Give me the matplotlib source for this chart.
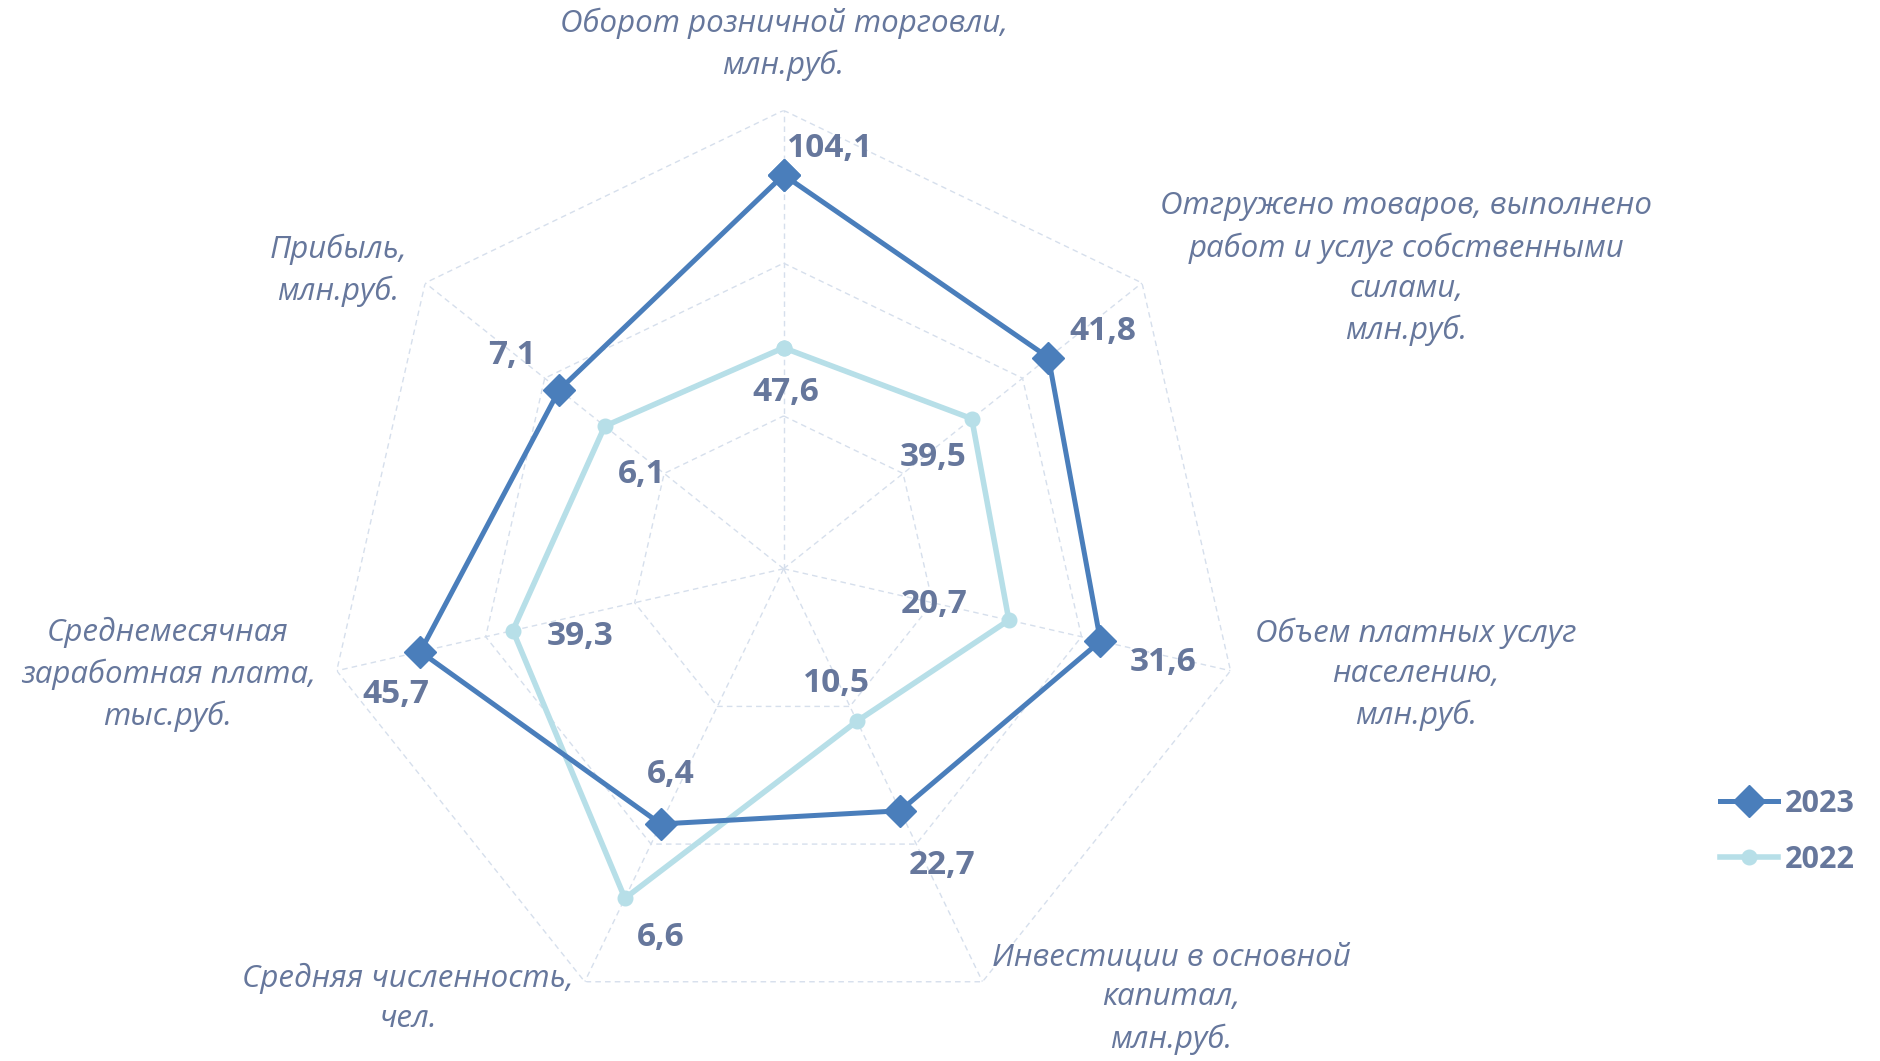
import numpy as np
import matplotlib.pyplot as plt

categories = [
    'Оборот розничной торговли,\nмлн.руб.',
    'Отгружено товаров, выполнено\nработ и услуг собственными\nсилами,\nмлн.руб.',
    'Объем платных услуг\nнаселению,\nмлн.руб.',
    'Инвестиции в основной\nкапитал,\nмлн.руб.',
    'Средняя численность,\nчел.',
    'Среднемесячная\nзаработная плата,\nтыс.руб.',
    'Прибыль,\nмлн.руб.',
]
# radial position of each point (share of the outer ring)
pos_2023 = [0.859, 0.739, 0.709, 0.586, 0.618, 0.813, 0.626]
pos_2022 = [0.482, 0.525, 0.504, 0.369, 0.798, 0.606, 0.499]
# values printed next to the points
labels_2023 = ['104,1', '41,8', '31,6', '22,7', '6,4', '45,7', '7,1']
labels_2022 = ['47,6', '39,5', '20,7', '10,5', '6,6', '39,3', '6,1']

plt.rcParams['font.family'] = ['Open Sans', 'DejaVu Sans']
text_col = '#66779c'
col_2023 = '#4a7ebb'
col_2022 = '#b7dfe8'
grid_col = '#d6dfec'

n = len(categories)
angles = np.arange(n) * 2 * np.pi / n
closed = np.append(angles, angles[0])

fig = plt.figure(figsize=(18.81, 10.61), dpi=100)
ax = fig.add_axes([0.1729, 0.0319, 0.4874, 0.8641], projection='polar')
ax.set_theta_zero_location('N')
ax.set_theta_direction(-1)
ax.set_ylim(0, 1)
ax.grid(False)
ax.spines['polar'].set_visible(False)
ax.set_xticks([])
ax.set_yticks([])
ax.patch.set_alpha(0)

for r in [1/3, 2/3, 1]:
    ax.plot(closed, [r] * (n + 1), color=grid_col, lw=1, ls=(0, (4, 3)), zorder=1)
for a in angles:
    ax.plot([a, a], [0, 1], color=grid_col, lw=1, ls=(0, (4, 3)), zorder=1)

ax.plot(closed, pos_2022 + pos_2022[:1], color=col_2022, lw=4, marker='o',
        markersize=10.5, zorder=3, label='2022')
ax.plot(closed, pos_2023 + pos_2023[:1], color=col_2023, lw=3.6, marker='D',
        markersize=16, zorder=4, label='2023')

off_2023 = [(39, -22), (45, -22), (52, 18), (35, 46), (8, -41), (-20, 36), (-39, -29)]
off_2022 = [(2, 37), (-32, 32), (-62, -13), (-17, -31), (30, 33), (56, 5), (31, 40)]
for i in range(n):
    for pos, labs, off in [(pos_2023, labels_2023, off_2023), (pos_2022, labels_2022, off_2022)]:
        ax.annotate(labs[i], (angles[i], pos[i]), xytext=(off[i][0] * 1.2, -off[i][1] * 1.2),
                    textcoords='offset pixels', ha='center', va='center',
                    fontsize=24, fontweight='bold', color=text_col, zorder=5)

cat_xy = [(653, 37), (1172, 224), (1180, 562), (976, 832), (340, 832), (140, 562), (282, 225)]
for lab, (x, y) in zip(categories, cat_xy):
    fig.text(x * 1.2 / 1881, 1 - y * 1.2 / 1061, lab, ha='center', va='center',
             fontsize=22.5, style='italic', color=text_col, linespacing=1.45)

h, l = ax.get_legend_handles_labels()
leg = fig.legend(h[::-1], l[::-1], loc='center left', bbox_to_anchor=(0.9, 0.216),
                 frameon=False, handlelength=1.9, handletextpad=0.2, labelspacing=0.85,
                 prop={'size': 22, 'weight': 'bold'})
for t in leg.get_texts():
    t.set_color(text_col)

fig.savefig('out.png', dpi=100)
